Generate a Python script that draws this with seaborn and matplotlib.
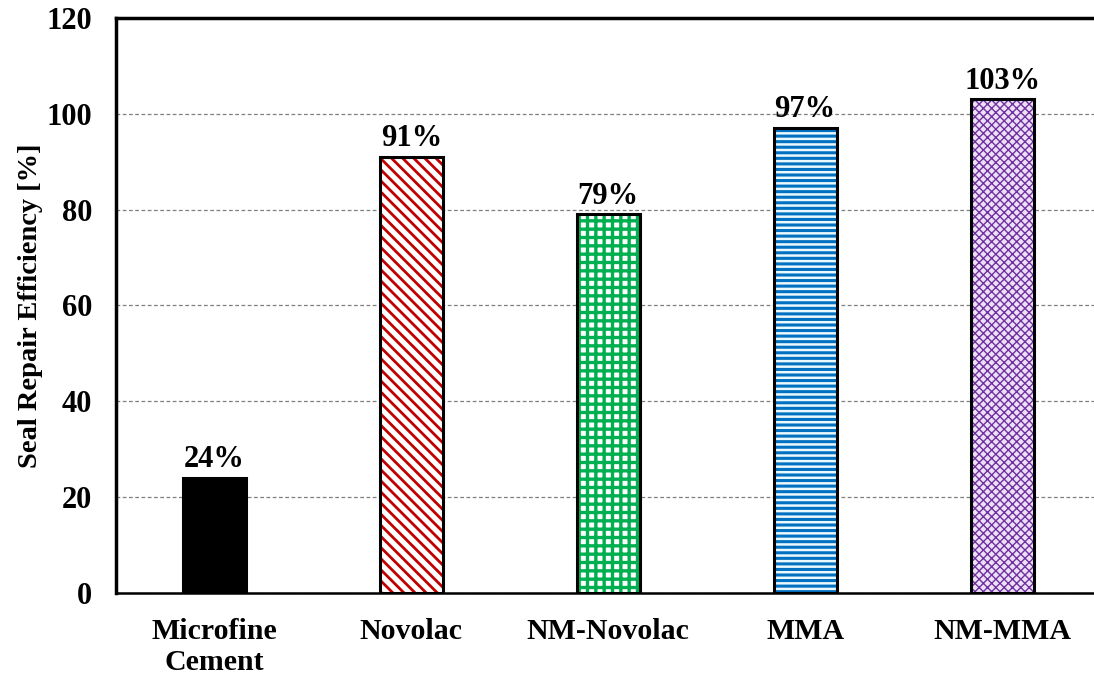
"""Seal repair efficiency bar chart."""
import matplotlib
matplotlib.use('Agg')
import matplotlib.pyplot as plt
import seaborn as sns
import pandas as pd

categories = ['Microfine\nCement', 'Novolac', 'NM-Novolac', 'MMA', 'NM-MMA']
efficiency = [24, 91, 79, 97, 103]
labels = ['24%', '91%', '79%', '97%', '103%']

face_colors = ['#000000', '#ffffff', '#ffffff', '#eaf8ff', '#ece0f7']
hatch_colors = ['#000000', '#c00000', '#00b050', '#0070c0', '#7030a0']
hatches = ['', '\\\\\\', '++', '---', 'xxxx']
hatch_widths = [1.0, 2.0, 2.4, 2.2, 1.0]

sns.set_style('white')
plt.rcParams['font.family'] = ['Liberation Serif', 'DejaVu Serif']
plt.rcParams['font.weight'] = 'bold'
plt.rcParams['text.color'] = 'black'
plt.rcParams['axes.labelcolor'] = 'black'
plt.rcParams['xtick.color'] = 'black'
plt.rcParams['ytick.color'] = 'black'
plt.rcParams['hatch.linewidth'] = 2.0

df = pd.DataFrame({'material': categories, 'efficiency': efficiency})

fig = plt.figure(figsize=(10.94, 6.76), dpi=100)
ax = fig.add_axes([0.106, 0.1228, 0.9, 0.8506])

sns.barplot(data=df, x='material', y='efficiency', hue='material',
            palette=face_colors, width=0.32, legend=False, ax=ax,
            saturation=1)

for patch, hc, h, hw in zip(ax.patches, hatch_colors, hatches, hatch_widths):
    patch.set_hatch(h)
    patch.set_edgecolor(hc)
    patch.set_linewidth(0)
    if hasattr(patch, 'set_hatch_linewidth'):
        patch.set_hatch_linewidth(hw)

# black outlines drawn on top of the hatched fills
ax.bar(range(len(categories)), efficiency, width=0.32, fill=False,
       edgecolor='black', linewidth=2.2, zorder=3)

for i, (v, t) in enumerate(zip(efficiency, labels)):
    ax.text(i, v + 0.8, t, ha='center', va='bottom', fontsize=22,
            fontweight='bold', color='black')

ax.set_ylim(0, 120)
ax.set_yticks(range(0, 121, 20))
ax.set_xlim(-0.5, len(categories) - 0.5)
ax.yaxis.grid(True, linestyle=(0, (3, 2)), color='#7f7f7f', linewidth=0.9)
ax.set_axisbelow(True)

ax.set_xlabel('')
ax.set_ylabel('Seal Repair Efficiency [%]', fontsize=20.5, fontweight='bold',
              labelpad=3)
ax.tick_params(axis='y', length=0, pad=17, labelsize=22)
ax.tick_params(axis='x', length=0, pad=18, labelsize=21.5)
for lab in ax.get_xticklabels() + ax.get_yticklabels():
    lab.set_fontweight('bold')

ax.spines['left'].set_linewidth(2.5)
ax.spines['top'].set_linewidth(2.5)
ax.spines['bottom'].set_linewidth(1.8)
ax.spines['right'].set_visible(False)
for s in ax.spines.values():
    s.set_color('black')

fig.savefig('out.png', dpi=100)
plt.close(fig)
